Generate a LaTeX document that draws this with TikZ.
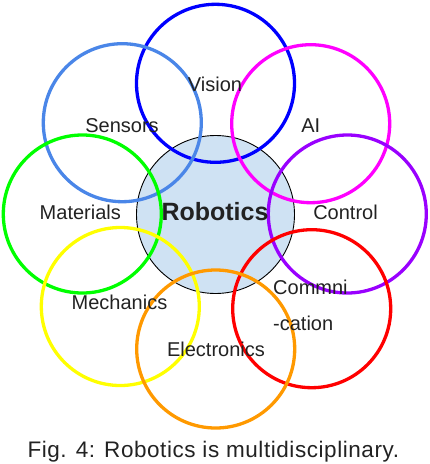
\documentclass[tikz,border=0pt]{standalone}
\usepackage{fontspec}
\setmainfont{Liberation Sans}
\definecolor{textink}{HTML}{222222}
\definecolor{corefill}{HTML}{CFE2F3}
\definecolor{visionblue}{HTML}{0000FF}
\definecolor{sensorblue}{HTML}{4A86E8}
\definecolor{aimagenta}{HTML}{FF00FF}
\definecolor{matgreen}{HTML}{00FF00}
\definecolor{ctrlpurple}{HTML}{9900FF}
\definecolor{mechyellow}{HTML}{FFFF00}
\definecolor{commred}{HTML}{FF0000}
\definecolor{elecorange}{HTML}{FF9900}

\begin{document}
\begin{tikzpicture}[
  x=1pt,
  y=-1pt,
  every node/.style={textink, inner sep=0pt},
  core/.style={circle, draw=black, line width=0.9pt, fill=corefill, minimum size=158pt},
  field/.style={circle, line width=3.3pt, minimum size=158pt},
  fieldlabel/.style={font=\fontsize{20}{24}\selectfont},
  corelabel/.style={font=\fontsize{25}{30}\selectfont\bfseries},
  caption/.style={font=\fontsize{22.5}{27}\selectfont\addfontfeature{LetterSpace=2.5}}
]
  % ---- page ------------------------------------------------------------
  \useasboundingbox (0,0) rectangle (430,464);

  % ---- the core discipline ---------------------------------------------
  \node[core] (robotics) at (215.5,214.5) {};

  % ---- the eight surrounding fields ------------------------------------
  \foreach \name/\pos/\col in {
      vision/{215.5,83.3}/visionblue,
      sensors/{122.3,122.7}/sensorblue,
      ai/{310.7,123.7}/aimagenta,
      materials/{82.3,214}/matgreen,
      control/{347.3,214}/ctrlpurple,
      mechanics/{120.3,306.5}/mechyellow,
      communication/{311.7,308.7}/commred,
      electronics/{215.7,349}/elecorange}
    \node[field, draw=\col] (\name) at (\pos) {};

  % ---- labels ----------------------------------------------------------
  \node[corelabel] (roboticslabel) at (215,212) {Robotics};
  \node[fieldlabel] (visionlabel) at (215,84) {Vision};
  \node[fieldlabel] (sensorslabel) at (122,125.5) {Sensors};
  \node[fieldlabel] (ailabel) at (310.7,125.5) {AI};
  \node[fieldlabel] (materialslabel) at (80.3,212) {Materials};
  \node[fieldlabel] (controllabel) at (345.5,212) {Control};
  \node[fieldlabel] (mechanicslabel) at (119.5,302.7) {Mechanics};
  \node[fieldlabel, align=left, anchor=west,
        font=\fontsize{20}{35.6}\selectfont] (communicationlabel)
    at (273,305.4) {Commni\\-cation};
  \node[fieldlabel] (electronicslabel) at (216,349.3) {Electronics};

  % ---- caption ---------------------------------------------------------
  \node[caption, anchor=base] (figcaption) at (213.3,457)
    {Fig. 4: Robotics is multidisciplinary.};
\end{tikzpicture}
\end{document}
